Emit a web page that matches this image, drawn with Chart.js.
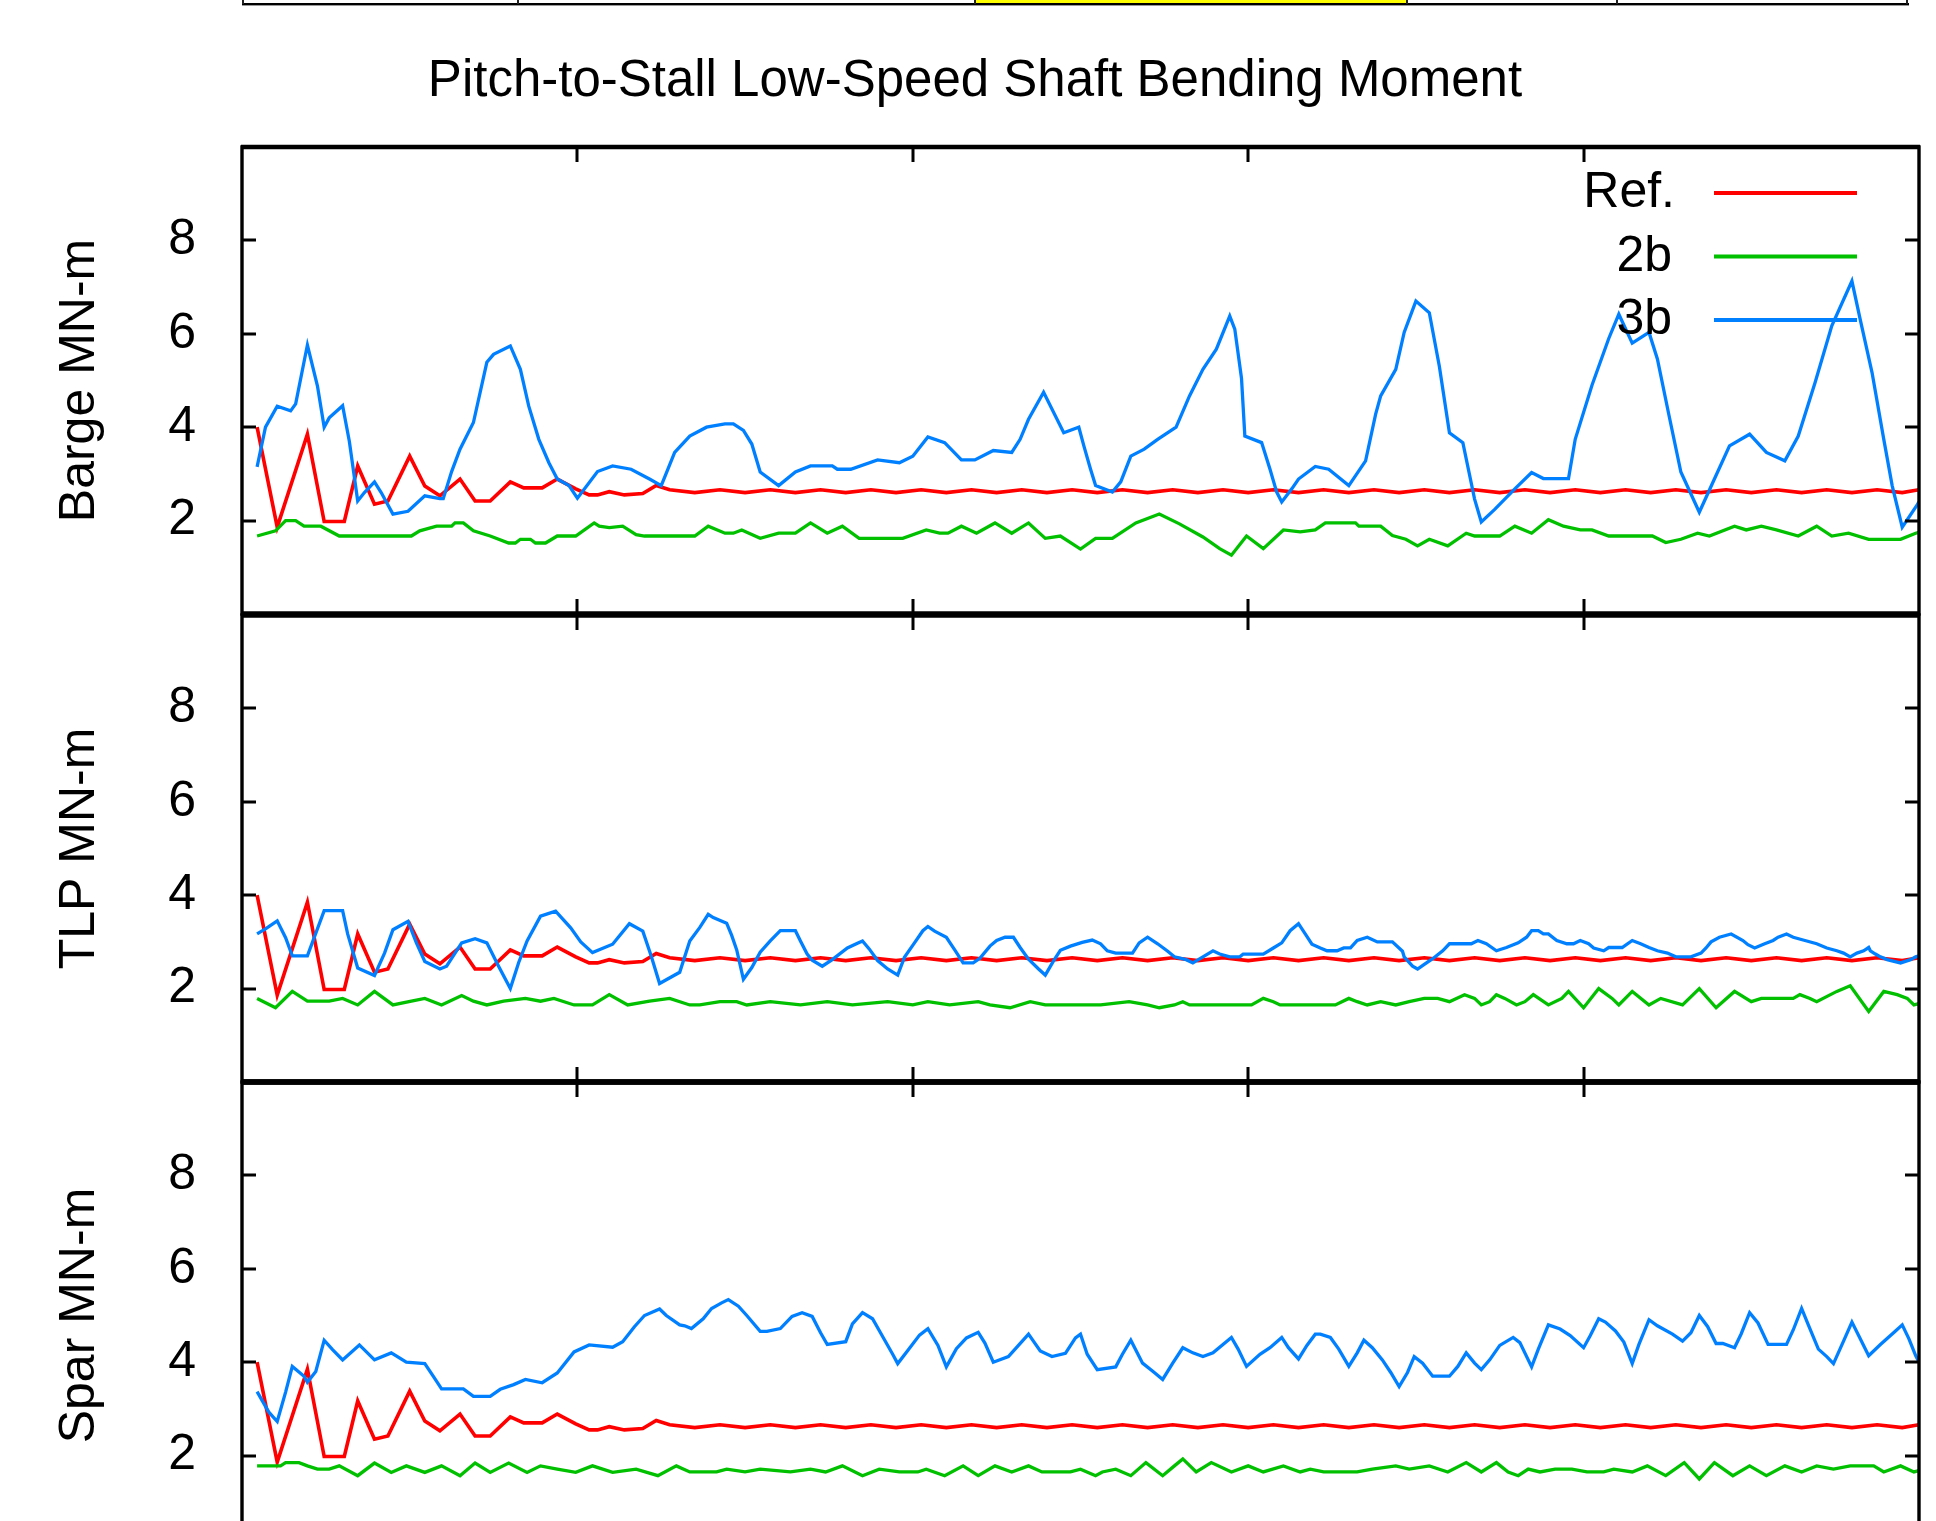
<!DOCTYPE html>
<html><head><meta charset="utf-8">
<script src="https://cdn.jsdelivr.net/npm/chart.js@4.4.1/dist/chart.umd.min.js"></script>
<style>
html,body{margin:0;padding:0;background:#fff;overflow:hidden;width:1936px;height:1521px;}
#wrap{position:relative;width:1936px;height:1521px;overflow:hidden;background:#fff;}
canvas{position:absolute;left:0;}
.bar{position:absolute;}
#title{position:absolute;left:0;top:53px;width:1950px;text-align:center;font-family:"Liberation Sans",Arial,Helvetica,sans-serif;font-size:51px;line-height:51px;color:#000;white-space:nowrap;}
</style></head>
<body><div id="wrap">
<div class="bar" style="left:975px;top:0;width:432px;height:3px;background:#ffff00;"></div>
<div class="bar" style="left:242px;top:3px;width:1667px;height:2px;background:#000;"></div>
<div class="bar" style="left:242px;top:5px;width:1667px;height:1px;background:#999;"></div>
<div class="bar" style="left:242px;top:0;width:2px;height:4px;background:#222;"></div>
<div class="bar" style="left:517px;top:0;width:2px;height:4px;background:#222;"></div>
<div class="bar" style="left:974px;top:0;width:2px;height:4px;background:#222;"></div>
<div class="bar" style="left:1406px;top:0;width:2px;height:4px;background:#222;"></div>
<div class="bar" style="left:1616px;top:0;width:2px;height:4px;background:#222;"></div>
<div class="bar" style="left:1906px;top:0;width:2px;height:4px;background:#222;"></div>
<div id="title">Pitch-to-Stall Low-Speed Shaft Bending Moment</div>
<canvas id="c0" width="1936" height="507"></canvas>
<canvas id="c1" width="1936" height="507"></canvas>
<canvas id="c2" width="1936" height="507"></canvas>
</div>
<script>
// ---- tick labels / categories ----
const xTicks = [20, 40, 60, 80];
const yTicks = [2, 4, 6, 8];
const seriesLabels = ['Ref.', '2b', '3b'];
const panelTitles = ['Barge MN-m', 'TLP MN-m', 'Spar MN-m'];

// ---- series values: [time, moment] ----
const refMoment = [[0.9,4.0],[2.1,1.86],[3.9,3.85],[4.9,1.98],[6.1,1.98],[6.9,3.17],[7.9,2.35],[8.7,2.42],[10.0,3.38],[10.9,2.74],[11.8,2.53],[13.0,2.89],[13.9,2.42],[14.8,2.42],[16.0,2.83],[16.8,2.7],[17.9,2.7],[18.8,2.89],[19.9,2.68],[20.7,2.55],[21.2,2.55],[21.9,2.62],[22.8,2.55],[23.9,2.58],[24.7,2.75],[25.5,2.66],[27,2.6],[28.5,2.66],[30,2.6],[31.5,2.66],[33,2.6],[34.5,2.66],[36,2.6],[37.5,2.66],[39,2.6],[40.5,2.66],[42,2.6],[43.5,2.66],[45,2.6],[46.5,2.66],[48,2.6],[49.5,2.66],[51,2.6],[52.5,2.66],[54,2.6],[55.5,2.66],[57,2.6],[58.5,2.66],[60,2.6],[61.5,2.66],[63,2.6],[64.5,2.66],[66,2.6],[67.5,2.66],[69,2.6],[70.5,2.66],[72,2.6],[73.5,2.66],[75,2.6],[76.5,2.66],[78,2.6],[79.5,2.66],[81,2.6],[82.5,2.66],[84,2.6],[85.5,2.66],[87,2.6],[88.5,2.66],[90,2.6],[91.5,2.66],[93,2.6],[94.5,2.66],[96,2.6],[97.5,2.66],[99,2.6],[100,2.66]];

const barge2b = [[0.9,1.67],[2.0,1.78],[2.6,2.0],[3.2,2.0],[3.7,1.88],[4.7,1.88],[5.8,1.67],[10.1,1.67],[10.6,1.78],[11.6,1.88],[12.5,1.88],[12.7,1.95],[13.2,1.95],[13.8,1.78],[14.8,1.67],[15.9,1.52],[16.3,1.52],[16.6,1.6],[17.2,1.6],[17.5,1.52],[18.1,1.52],[18.8,1.67],[19.9,1.67],[21.0,1.95],[21.3,1.88],[21.9,1.85],[22.7,1.88],[23.5,1.7],[24.0,1.67],[27.0,1.67],[27.8,1.88],[28.8,1.73],[29.3,1.73],[29.8,1.8],[30.9,1.62],[32.0,1.73],[33.0,1.73],[33.9,1.95],[34.9,1.73],[35.8,1.88],[36.8,1.62],[39.4,1.62],[40.8,1.8],[41.6,1.73],[42.1,1.73],[42.9,1.88],[43.8,1.73],[44.9,1.95],[45.9,1.73],[46.9,1.95],[47.9,1.62],[48.8,1.67],[50.0,1.39],[50.9,1.62],[51.9,1.62],[53.3,1.95],[54.7,2.14],[55.9,1.93],[57.3,1.65],[58.3,1.4],[59.0,1.26],[59.9,1.67],[60.9,1.4],[62.1,1.8],[63.1,1.76],[64.0,1.8],[64.6,1.95],[66.4,1.95],[66.6,1.88],[67.9,1.88],[68.6,1.68],[69.4,1.6],[70.1,1.46],[70.8,1.6],[71.9,1.46],[73.0,1.73],[73.5,1.67],[75.0,1.67],[75.9,1.88],[76.9,1.73],[77.9,2.02],[78.8,1.88],[79.8,1.8],[80.5,1.8],[81.5,1.67],[84.1,1.67],[84.9,1.53],[85.8,1.6],[86.8,1.73],[87.5,1.67],[89.0,1.88],[89.7,1.8],[90.6,1.88],[91.5,1.8],[92.8,1.67],[93.9,1.88],[94.8,1.67],[95.8,1.73],[97.0,1.6],[98.9,1.6],[99.8,1.73],[100,1.75]];

const barge3b = [[0.9,3.15],[1.4,4.0],[2.1,4.45],[2.9,4.35],[3.2,4.5],[3.9,5.76],[4.5,4.88],[4.9,4.0],[5.2,4.2],[6.0,4.46],[6.4,3.7],[6.9,2.42],[7.3,2.6],[7.9,2.83],[8.3,2.6],[9.0,2.14],[9.9,2.2],[10.9,2.53],[11.8,2.47],[12.0,2.47],[12.5,3.05],[13.0,3.53],[13.8,4.1],[14.6,5.39],[15.0,5.56],[16.0,5.74],[16.6,5.24],[17.1,4.45],[17.7,3.74],[18.3,3.24],[18.8,2.89],[19.5,2.75],[20.0,2.48],[21.2,3.05],[22.1,3.17],[23.2,3.1],[24.3,2.89],[25.0,2.75],[25.8,3.46],[26.7,3.81],[27.7,4.0],[28.8,4.07],[29.3,4.07],[29.9,3.93],[30.4,3.64],[30.9,3.04],[32.0,2.75],[33.0,3.04],[33.9,3.17],[35.2,3.17],[35.5,3.1],[36.3,3.1],[37.9,3.3],[39.2,3.24],[40.0,3.38],[40.9,3.79],[41.9,3.67],[42.9,3.3],[43.7,3.3],[44.8,3.5],[45.9,3.46],[46.4,3.74],[46.9,4.17],[47.8,4.75],[49.0,3.88],[49.9,4.0],[50.2,3.6],[50.6,3.1],[50.9,2.75],[51.9,2.61],[52.4,2.83],[53.0,3.38],[53.8,3.53],[54.6,3.74],[55.7,4.0],[56.5,4.67],[57.3,5.24],[58.1,5.67],[58.9,6.38],[59.2,6.1],[59.6,5.05],[59.8,3.81],[60.8,3.67],[61.3,3.1],[61.7,2.61],[62.0,2.4],[62.6,2.68],[63.0,2.89],[64.0,3.16],[64.8,3.1],[66.0,2.75],[67.0,3.28],[67.6,4.28],[67.9,4.67],[68.8,5.24],[69.3,6.03],[70.0,6.7],[70.8,6.45],[71.4,5.3],[72.0,3.88],[72.8,3.67],[73.5,2.46],[73.9,1.97],[74.7,2.24],[75.9,2.68],[76.9,3.03],[77.6,2.9],[79.1,2.9],[79.5,3.74],[80.5,4.9],[81.5,5.9],[82.1,6.42],[82.9,5.8],[83.9,6.03],[84.4,5.46],[85.1,4.24],[85.8,3.04],[86.9,2.18],[87.8,2.89],[88.7,3.6],[89.9,3.85],[90.9,3.46],[92.0,3.28],[92.8,3.81],[93.8,4.95],[94.8,6.17],[96.0,7.13],[96.5,6.3],[97.2,5.17],[97.9,3.74],[98.4,2.75],[99.0,1.86],[99.9,2.34],[100,2.4]];

const tlp2b = [[0.9,1.79],[2.0,1.59],[3.0,1.94],[3.9,1.73],[5.2,1.73],[6.0,1.79],[6.9,1.65],[7.9,1.94],[9.0,1.65],[10.1,1.73],[10.9,1.79],[11.9,1.65],[13.1,1.85],[13.8,1.73],[14.6,1.65],[15.6,1.73],[16.9,1.79],[17.8,1.73],[18.6,1.79],[19.8,1.65],[20.9,1.65],[21.9,1.87],[23.0,1.65],[24.3,1.73],[25.5,1.79],[26.7,1.65],[27.3,1.65],[28.5,1.72],[29.5,1.72],[30.1,1.65],[31.5,1.72],[33.3,1.65],[34.9,1.72],[36.4,1.65],[38.5,1.72],[40.0,1.65],[40.9,1.72],[42.2,1.65],[43.9,1.72],[44.6,1.65],[45.8,1.59],[47.0,1.72],[47.9,1.65],[51.2,1.65],[52.9,1.72],[54.0,1.65],[54.7,1.59],[55.6,1.65],[56.1,1.72],[56.5,1.65],[60.2,1.65],[60.9,1.79],[61.5,1.72],[61.9,1.65],[65.2,1.65],[66.0,1.79],[66.5,1.72],[67.1,1.65],[67.9,1.72],[68.8,1.65],[69.6,1.72],[70.5,1.79],[71.3,1.79],[72.0,1.72],[72.9,1.87],[73.5,1.79],[73.9,1.65],[74.4,1.72],[74.8,1.87],[75.3,1.79],[76.0,1.65],[76.5,1.72],[77.0,1.87],[77.9,1.65],[78.7,1.79],[79.1,1.94],[80.0,1.59],[80.9,2.0],[81.7,1.79],[82.1,1.65],[82.9,1.94],[83.9,1.65],[84.6,1.79],[85.9,1.65],[86.9,2.0],[87.9,1.59],[89.0,1.94],[90.0,1.72],[90.6,1.79],[92.5,1.79],[92.9,1.87],[93.5,1.79],[93.9,1.72],[95.1,1.94],[95.9,2.06],[97.0,1.51],[97.9,1.94],[98.7,1.87],[99.3,1.79],[99.7,1.65],[100,1.68]];

const tlp3b = [[0.9,3.17],[1.4,3.28],[2.1,3.45],[2.6,3.09],[3.0,2.7],[3.9,2.7],[4.9,3.67],[6.0,3.67],[6.3,3.17],[6.9,2.44],[7.9,2.28],[8.5,2.76],[9.0,3.26],[9.9,3.44],[10.4,2.98],[10.9,2.58],[11.8,2.42],[12.2,2.48],[13.1,2.98],[13.9,3.07],[14.6,2.98],[15.3,2.48],[16.0,2.0],[16.5,2.56],[17.0,3.02],[17.8,3.55],[18.7,3.66],[19.6,3.3],[20.2,3.0],[20.9,2.77],[22.1,2.95],[23.1,3.39],[23.9,3.23],[24.4,2.7],[24.9,2.11],[26.1,2.35],[26.7,3.02],[27.3,3.31],[27.8,3.59],[28.1,3.52],[28.9,3.4],[29.2,3.14],[29.5,2.83],[29.9,2.2],[30.4,2.45],[30.9,2.78],[31.5,3.02],[32.1,3.24],[33.0,3.24],[33.3,3.02],[33.7,2.74],[34.0,2.61],[34.6,2.48],[35.2,2.62],[36.1,2.87],[36.7,2.97],[37.0,3.02],[37.4,2.85],[37.9,2.6],[38.5,2.42],[39.1,2.29],[39.5,2.67],[40.1,2.98],[40.6,3.24],[40.9,3.33],[41.3,3.23],[42.0,3.1],[42.5,2.83],[43.0,2.55],[43.6,2.55],[44.0,2.65],[44.6,2.91],[45.0,3.03],[45.5,3.1],[46.0,3.1],[46.4,2.88],[46.9,2.63],[47.5,2.42],[47.9,2.29],[48.4,2.6],[48.8,2.82],[49.4,2.91],[50.1,2.99],[50.7,3.04],[51.2,2.96],[51.6,2.81],[52.1,2.76],[53.1,2.76],[53.5,2.98],[54.0,3.1],[54.6,2.96],[55.2,2.8],[55.6,2.68],[56.3,2.62],[56.7,2.55],[57.3,2.68],[57.9,2.81],[58.3,2.74],[58.9,2.68],[59.5,2.68],[59.7,2.74],[60.9,2.74],[61.5,2.87],[62.0,2.98],[62.5,3.24],[63.0,3.39],[63.4,3.17],[63.8,2.95],[64.3,2.87],[64.7,2.81],[65.3,2.81],[65.7,2.87],[66.1,2.87],[66.5,3.03],[67.1,3.1],[67.7,3.0],[68.6,3.0],[69.2,2.8],[69.3,2.68],[69.8,2.48],[70.1,2.42],[70.5,2.52],[71.0,2.64],[71.6,2.81],[72.0,2.96],[73.3,2.96],[73.7,3.03],[74.2,2.96],[74.8,2.81],[75.4,2.88],[76.1,2.98],[76.6,3.1],[76.9,3.24],[77.3,3.24],[77.6,3.17],[77.9,3.17],[78.4,3.03],[79.0,2.96],[79.4,2.96],[79.8,3.03],[80.3,2.96],[80.6,2.87],[81.2,2.81],[81.5,2.88],[82.3,2.88],[82.9,3.03],[83.4,2.96],[83.9,2.88],[84.4,2.81],[85.0,2.76],[85.5,2.68],[86.4,2.68],[87.0,2.76],[87.3,2.87],[87.6,3.0],[88.1,3.1],[88.8,3.17],[89.5,3.03],[89.8,2.94],[90.2,2.87],[90.8,2.96],[91.3,3.03],[91.6,3.1],[92.1,3.17],[92.5,3.1],[93.2,3.03],[93.9,2.96],[94.5,2.87],[95.1,2.81],[95.5,2.76],[95.9,2.68],[96.3,2.76],[96.7,2.81],[97.0,2.88],[97.1,2.81],[97.4,2.74],[97.7,2.68],[98.1,2.62],[98.9,2.55],[99.5,2.62],[99.8,2.68],[100,2.7]];

const spar2b = [[0.9,1.78],[2.3,1.78],[2.6,1.85],[3.4,1.85],[3.9,1.78],[4.5,1.71],[5.2,1.71],[5.8,1.78],[6.9,1.57],[7.9,1.84],[8.9,1.64],[9.8,1.78],[10.9,1.64],[11.9,1.78],[13.0,1.57],[13.9,1.84],[14.8,1.64],[15.9,1.84],[17.0,1.64],[17.8,1.78],[18.8,1.71],[19.9,1.64],[20.9,1.78],[22.1,1.64],[23.5,1.71],[24.8,1.57],[25.9,1.78],[26.7,1.65],[28.3,1.65],[28.9,1.71],[30.0,1.65],[30.9,1.71],[32.7,1.65],[33.9,1.71],[34.8,1.65],[35.8,1.78],[37.0,1.57],[38.0,1.71],[39.2,1.65],[40.3,1.65],[40.8,1.71],[41.9,1.57],[43.0,1.78],[43.9,1.57],[44.9,1.78],[45.9,1.65],[46.9,1.78],[47.7,1.65],[49.4,1.65],[50.0,1.71],[50.9,1.57],[51.3,1.65],[52.1,1.71],[53.0,1.57],[53.9,1.85],[54.9,1.57],[55.6,1.78],[56.1,1.93],[56.9,1.65],[57.8,1.85],[59.0,1.65],[60.0,1.78],[60.9,1.65],[62.1,1.78],[63.1,1.65],[63.7,1.71],[64.5,1.65],[66.5,1.65],[67.4,1.71],[68.8,1.78],[69.6,1.71],[70.8,1.78],[71.9,1.65],[73.0,1.85],[73.9,1.65],[74.8,1.85],[75.5,1.65],[76.1,1.57],[76.7,1.71],[77.4,1.65],[78.3,1.71],[79.3,1.71],[80.2,1.65],[81.2,1.65],[81.8,1.71],[82.9,1.65],[83.8,1.78],[84.9,1.57],[86.0,1.85],[86.9,1.5],[87.8,1.85],[88.9,1.57],[89.9,1.78],[90.9,1.57],[92.0,1.78],[93.0,1.65],[93.9,1.78],[94.9,1.71],[95.9,1.78],[97.3,1.78],[97.9,1.65],[98.9,1.78],[99.7,1.65],[100,1.68]];

const spar3b = [[0.9,3.37],[1.6,2.93],[2.1,2.73],[2.6,3.36],[3.0,3.91],[3.7,3.7],[3.9,3.57],[4.4,3.8],[4.9,4.47],[5.4,4.27],[6.0,4.05],[7.0,4.37],[7.9,4.05],[8.9,4.2],[9.8,4.0],[10.9,3.97],[11.4,3.7],[11.9,3.43],[13.2,3.43],[13.8,3.27],[14.8,3.27],[15.4,3.42],[16.2,3.52],[16.9,3.63],[17.9,3.56],[18.8,3.77],[19.8,4.22],[20.7,4.37],[22.1,4.32],[22.7,4.44],[23.4,4.76],[24.0,5.0],[24.9,5.14],[25.3,5.0],[26.1,4.8],[26.4,4.78],[26.8,4.72],[27.5,4.93],[28.0,5.15],[28.6,5.27],[29.0,5.34],[29.6,5.2],[30.1,5.0],[30.9,4.66],[31.3,4.66],[32.1,4.72],[32.8,4.98],[33.4,5.06],[34.0,4.98],[34.5,4.63],[34.9,4.38],[36.0,4.44],[36.4,4.82],[37.0,5.06],[37.6,4.93],[38.2,4.55],[38.8,4.17],[39.1,3.97],[39.7,4.25],[40.4,4.58],[40.9,4.72],[41.5,4.36],[42.0,3.9],[42.6,4.29],[43.2,4.52],[43.9,4.64],[44.3,4.41],[44.8,4.0],[45.7,4.12],[46.3,4.36],[46.9,4.6],[47.6,4.24],[48.3,4.12],[49.1,4.19],[49.7,4.52],[50.0,4.6],[50.4,4.17],[51.0,3.84],[52.1,3.9],[52.5,4.17],[53.0,4.47],[53.7,3.98],[54.4,3.78],[54.9,3.63],[55.5,3.98],[56.1,4.31],[56.7,4.2],[57.3,4.12],[57.9,4.2],[59.0,4.53],[59.4,4.28],[59.9,3.91],[60.7,4.17],[61.3,4.31],[62.0,4.53],[62.4,4.31],[63.0,4.07],[63.5,4.36],[64.0,4.6],[64.3,4.6],[64.9,4.53],[65.4,4.28],[66.0,3.91],[66.5,4.2],[66.9,4.47],[67.4,4.31],[68.0,4.05],[68.5,3.78],[69.0,3.48],[69.5,3.78],[69.9,4.12],[70.4,3.98],[71.0,3.7],[72.0,3.7],[72.5,3.91],[73.0,4.2],[73.5,3.98],[73.9,3.84],[74.4,4.05],[75.0,4.36],[75.8,4.53],[76.2,4.42],[76.9,3.9],[77.3,4.28],[77.9,4.8],[78.6,4.71],[79.2,4.57],[80.0,4.31],[80.4,4.57],[80.9,4.93],[81.3,4.86],[81.9,4.67],[82.4,4.43],[82.9,3.97],[83.3,4.38],[83.9,4.91],[84.4,4.78],[85.3,4.6],[85.9,4.45],[86.4,4.63],[86.9,5.0],[87.4,4.76],[87.9,4.4],[88.3,4.4],[89.0,4.31],[89.4,4.61],[89.9,5.06],[90.4,4.84],[91.0,4.38],[92.1,4.38],[92.5,4.69],[93.0,5.15],[93.4,4.8],[94.0,4.28],[94.5,4.12],[94.9,3.97],[95.5,4.45],[96.0,4.86],[96.4,4.57],[97.0,4.14],[97.7,4.38],[98.6,4.67],[99.0,4.8],[99.4,4.5],[99.8,4.14],[100,4.0]];

// ---- styling ----
const FONT = '"Liberation Sans", Arial, Helvetica, sans-serif';
const colors = ['#ff0000', '#00c000', '#0080ff'];
const widths = [3.6, 3.3, 3.3];
const panelTops = [147, 615, 1082];
const PANEL_H = 467;
const PAD = 20;
const AREA_LEFT = 242, AREA_RIGHT = 1919;
const panels = [
  [refMoment, barge2b, barge3b],
  [refMoment, tlp2b, tlp3b],
  [refMoment, spar2b, spar3b]
];

const framePlugin = {
  id: 'frame',
  afterDatasetsDraw(chart, args, opts) {
    const {ctx, chartArea: a, scales: {x, y}} = chart;
    ctx.save();
    ctx.strokeStyle = '#000';
    ctx.lineWidth = 3.4;
    ctx.strokeRect(a.left, a.top, a.right - a.left, a.bottom - a.top);
    ctx.beginPath();
    if (opts.heavyTop) { ctx.lineWidth = 4.5; ctx.moveTo(a.left - 1, a.top); ctx.lineTo(a.right + 1, a.top); }
    ctx.stroke();
    ctx.lineWidth = 5.5;
    ctx.beginPath();
    if (opts.sepTop) { ctx.moveTo(a.left - 1, a.top); ctx.lineTo(a.right + 1, a.top); }
    if (opts.sepBottom) { ctx.moveTo(a.left - 1, a.bottom); ctx.lineTo(a.right + 1, a.bottom); }
    ctx.stroke();
    ctx.lineWidth = 3;
    ctx.beginPath();
    xTicks.forEach(v => {
      const px = Math.round(x.getPixelForValue(v));
      ctx.moveTo(px, a.top); ctx.lineTo(px, a.top + 15);
      ctx.moveTo(px, a.bottom); ctx.lineTo(px, a.bottom - 15);
    });
    yTicks.forEach(v => {
      const py = Math.round(y.getPixelForValue(v));
      ctx.moveTo(a.left, py); ctx.lineTo(a.left + 14, py);
      ctx.moveTo(a.right, py); ctx.lineTo(a.right - 14, py);
    });
    ctx.stroke();
    ctx.restore();
  }
};

const keyPlugin = {
  id: 'gnuKey',
  afterDatasetsDraw(chart, args, opts) {
    if (!opts.show) return;
    const {ctx} = chart;
    const top = chart.chartArea.top;
    ctx.save();
    ctx.font = '50px ' + FONT;
    ctx.textAlign = 'right';
    ctx.textBaseline = 'alphabetic';
    chart.data.datasets.forEach((ds, i) => {
      const base = top + 60 + i * 63.5;
      ctx.fillStyle = '#000';
      ctx.fillText(ds.label, i === 0 ? 1675 : 1672, base);
      ctx.strokeStyle = ds.borderColor;
      ctx.lineWidth = 4;
      ctx.beginPath();
      ctx.moveTo(1714, base - 14);
      ctx.lineTo(1857, base - 14);
      ctx.stroke();
    });
    ctx.restore();
  }
};

panels.forEach((series, p) => {
  const cv = document.getElementById('c' + p);
  cv.style.top = (panelTops[p] - PAD) + 'px';
  cv.width = 1936; cv.height = PANEL_H + 2 * PAD;
  new Chart(cv, {
    type: 'line',
    data: {
      datasets: series.map((s, i) => ({
        label: seriesLabels[i],
        data: s.map(([x, y]) => ({x, y})),
        borderColor: colors[i],
        backgroundColor: colors[i],
        borderWidth: widths[i],
        pointRadius: 0,
        tension: 0,
        fill: false,
        order: 2 - i
      }))
    },
    options: {
      responsive: false,
      animation: false,
      events: [],
      layout: {padding: {top: PAD, bottom: PAD, left: 0, right: 1936 - AREA_RIGHT}},
      plugins: {
        legend: {display: false}, tooltip: {enabled: false}, title: {display: false},
        gnuKey: {show: p === 0},
        frame: {sepTop: p > 0, sepBottom: p < 2, heavyTop: p === 0}
      },
      scales: {
        x: {type: 'linear', min: 0, max: 100, display: false},
        y: {
          type: 'linear', min: 0, max: 10, position: 'left',
          afterBuildTicks: s => { s.ticks = yTicks.map(v => ({value: v})); },
          afterFit: s => { s.width = AREA_LEFT; s.paddingTop = 0; s.paddingBottom = 0; },
          grid: {display: false, drawTicks: false},
          border: {display: false},
          ticks: {padding: 46, color: '#000', font: {family: FONT, size: 50}, callback: v => String(v)},
          title: {display: true, text: panelTitles[p], color: '#000', font: {family: FONT, size: 50, lineHeight: 1}, padding: {top: 55, bottom: 0}}
        }
      }
    },
    plugins: [framePlugin, keyPlugin]
  });
});
</script>
</body></html>
